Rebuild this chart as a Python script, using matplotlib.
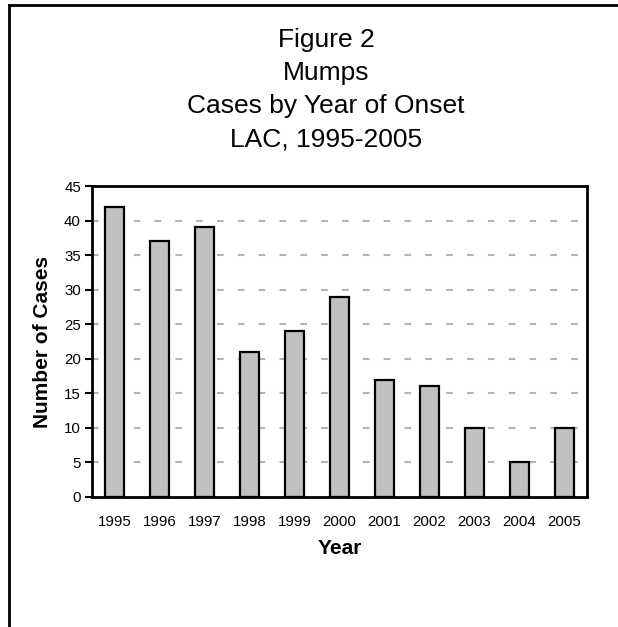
import matplotlib
matplotlib.use('Agg')
import matplotlib.pyplot as plt
from matplotlib.lines import Line2D

plt.rcParams['font.family'] = ['Liberation Sans', 'DejaVu Sans']

# Dati
years = ['1995', '1996', '1997', '1998', '1999', '2000',
         '2001', '2002', '2003', '2004', '2005']
cases = [42, 37, 39, 21, 24, 29, 17, 16, 10, 5, 10]
y_ticks = [0, 5, 10, 15, 20, 25, 30, 35, 40, 45]

W, H = 618, 627
fig = plt.figure(figsize=(W / 100, H / 100), dpi=100)
ax = fig.add_axes([92 / W, 1 - 497 / H, (587 - 92) / W, (497 - 186) / H])

# Barre
ax.bar(range(len(years)), cases, width=0.42, color='#c0c0c0',
       edgecolor='black', linewidth=1.6, zorder=3)

ax.set_xlim(-0.5, len(years) - 0.5)
ax.set_ylim(0, 45)
ax.set_yticks(y_ticks)
ax.set_yticklabels([str(v) for v in y_ticks], fontsize=10.8)
ax.set_xticks(range(len(years)))
ax.set_xticklabels(years, fontsize=10.8)
ax.tick_params(axis='x', length=0, pad=13)
ax.tick_params(axis='y', length=5, width=1.5, direction='out', pad=3)

# Griglia tratteggiata
for v in y_ticks[1:-1]:
    ax.axhline(v, color='#b4b4b4', linewidth=1.5, linestyle=(0, (3.2, 6.8)), zorder=1)

for side in ['left', 'bottom', 'top', 'right']:
    ax.spines[side].set_linewidth(2)

ax.set_xlabel('Year', fontsize=15, weight='bold', labelpad=7)
ax.set_ylabel('Number of Cases', fontsize=15, weight='bold', labelpad=9)

# Titolo
title_lines = ['Figure 2', 'Mumps', 'Cases by Year of Onset', 'LAC, 1995-2005']
for i, line in enumerate(title_lines):
    fig.text(326 / W, 1 - (40 + 33 * i) / H, line, ha='center', va='center', fontsize=19)

# Bordo (solo sopra e a sinistra)
fig.add_artist(Line2D([9 / W, 1], [1 - 5 / H, 1 - 5 / H], color='black', linewidth=2))
fig.add_artist(Line2D([9 / W, 9 / W], [0, 1 - 5 / H], color='black', linewidth=2))

fig.savefig('out.png', dpi=100)
